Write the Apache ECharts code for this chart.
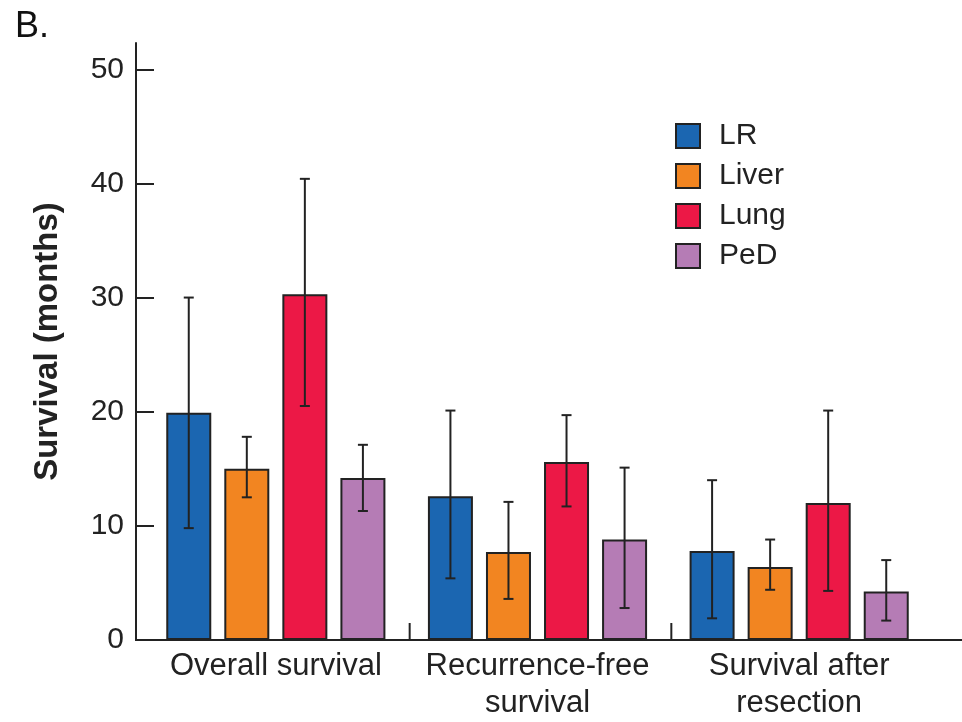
<!DOCTYPE html>
<html lang="en">
  <head>
    <meta charset="UTF-8" />
    <title>Survival by recurrence site</title>
    <style>
      html, body { margin: 0; padding: 0; background: #fff; }
      #main { width: 962px; height: 722px; }
    </style>
  </head>
  <body>
    <div id="main"></div>
    <script src="https://cdn.jsdelivr.net/npm/echarts@6/dist/echarts.min.js"></script>
    <script>
      // categories and groups
      var categories = ['Overall survival', 'Recurrence-free\nsurvival', 'Survival after\nresection'];
      var groups = ['LR', 'Liver', 'Lung', 'PeD'];
      var colors = ['#1b66b1', '#f28521', '#ec1846', '#b57cb5'];

      // mean survival (months)
      var lrMean = [19.9, 12.6, 7.8];
      var liverMean = [15.0, 7.7, 6.4];
      var lungMean = [30.3, 15.6, 12.0];
      var pedMean = [14.2, 8.8, 4.25];

      // error bar lower / upper ends
      var lrLow = [9.8, 5.4, 1.9];
      var lrHigh = [30.0, 20.1, 14.0];
      var liverLow = [12.5, 3.6, 4.4];
      var liverHigh = [17.8, 12.1, 8.8];
      var lungLow = [20.5, 11.7, 4.3];
      var lungHigh = [40.4, 19.7, 20.1];
      var pedLow = [11.3, 2.8, 1.7];
      var pedHigh = [17.1, 15.1, 7.0];

      var yTicks = [0, 10, 20, 30, 40, 50];

      var means = [lrMean, liverMean, lungMean, pedMean];
      var lows = [lrLow, liverLow, lungLow, pedLow];
      var highs = [lrHigh, liverHigh, lungHigh, pedHigh];

      var font = "'Liberation Sans', Arial, sans-serif";
      var ink = '#222';
      var barW = 45;
      var gapPct = 0.29;
      var step = barW * (1 + gapPct);

      var series = [];
      groups.forEach(function (g, i) {
        series.push({
          name: g,
          type: 'bar',
          data: means[i],
          barWidth: barW,
          barGap: (gapPct * 100) + '%',
          itemStyle: { color: colors[i], borderColor: ink, borderWidth: 2 },
          z: 2
        });
      });
      groups.forEach(function (g, i) {
        var errData = categories.map(function (c, k) { return [k, lows[i][k], highs[i][k]]; });
        series.push({
          type: 'custom',
          name: g + ' err',
          data: errData,
          z: 5,
          silent: true,
          renderItem: function (params, api) {
            var off = (i - 1.5) * step;
            var lo = api.coord([api.value(0), api.value(1)]);
            var hi = api.coord([api.value(0), api.value(2)]);
            var x = lo[0] + off;
            var st = { stroke: ink, lineWidth: 2 };
            return {
              type: 'group',
              children: [
                { type: 'line', shape: { x1: x, y1: lo[1], x2: x, y2: hi[1] }, style: st },
                { type: 'line', shape: { x1: x - 5, y1: lo[1], x2: x + 5, y2: lo[1] }, style: st },
                { type: 'line', shape: { x1: x - 5, y1: hi[1], x2: x + 5, y2: hi[1] }, style: st }
              ]
            };
          }
        });
      });

      var chart = echarts.init(document.getElementById('main'));
      var option = {
        animation: false,
        textStyle: { fontFamily: font },
        title: {
          text: 'B.',
          left: 10,
          top: 4,
          textStyle: { fontSize: 36, fontWeight: 'normal', color: '#111', fontFamily: font }
        },
        legend: {
          data: groups,
          orient: 'vertical',
          left: 670,
          top: 116,
          itemWidth: 24,
          itemHeight: 24,
          itemGap: 10,
          icon: 'rect',
          textStyle: { fontSize: 30, color: ink, fontFamily: font, padding: [0, 0, 0, 14] }
        },
        grid: { left: 145, right: 32, top: 43, bottom: 80 },
        xAxis: {
          type: 'category',
          data: categories,
          axisLine: { show: false },
          axisTick: { show: false },
          axisLabel: { interval: 0, fontSize: 31, lineHeight: 37, color: ink, margin: 8, fontFamily: font }
        },
        yAxis: {
          type: 'value',
          min: 0,
          max: 52.3,
          offset: 9,
          name: 'Survival (months)',
          nameLocation: 'middle',
          nameGap: 72,
          nameTextStyle: { fontSize: 33, fontWeight: 'bold', color: ink, fontFamily: font },
          splitLine: { show: false },
          axisLine: { show: true, lineStyle: { color: ink, width: 2 } },
          axisTick: { show: true, inside: true, length: 18, customValues: yTicks, lineStyle: { color: ink, width: 2 } },
          axisLabel: { fontSize: 30, color: ink, margin: 12, customValues: yTicks, fontFamily: font }
        },
        series: series
      };
      chart.setOption(option);

      // x axis line running from the y axis to the right edge, and group separators
      var y0 = chart.convertToPixel({ yAxisIndex: 0 }, 0);
      var cx = categories.map(function (c, k) { return chart.convertToPixel({ xAxisIndex: 0 }, k); });
      var graphics = [{
        type: 'line',
        shape: { x1: 135, y1: y0, x2: 962, y2: y0 },
        style: { stroke: ink, lineWidth: 2 },
        z: 10
      }];
      for (var k = 1; k < cx.length; k++) {
        var bx = (cx[k - 1] + cx[k]) / 2 + 3;
        graphics.push({
          type: 'line',
          shape: { x1: bx, y1: y0, x2: bx, y2: y0 - 17 },
          style: { stroke: ink, lineWidth: 2 },
          z: 10
        });
      }
      chart.setOption({ graphic: graphics });
    </script>
  </body>
</html>
